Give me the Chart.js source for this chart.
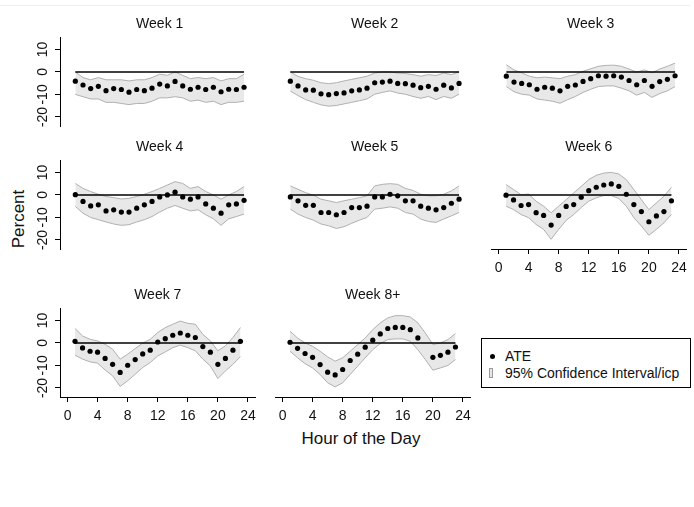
<!DOCTYPE html>
<html>
<head>
<meta charset="utf-8">
<script src="https://cdn.jsdelivr.net/npm/chart.js@4.4.1/dist/chart.umd.min.js"></script>
<style>
  html, body { margin: 0; padding: 0; background: #fff; overflow: hidden; }
  #wrap { position: relative; width: 694px; height: 507px; font-family: "Liberation Sans", Arial, sans-serif; color: #111; }
  #wrap canvas { position: absolute; }
  .lab { position: absolute; white-space: nowrap; line-height: 1; }
  #topline { position: absolute; left: 0; top: 5px; width: 690px; height: 1px; background: #eeeeee; }
  #legend { position: absolute; left: 481px; top: 338px; width: 210px; height: 50px; box-sizing: border-box; border: 1px solid #000; font-size: 14px; }
</style>
</head>
<body>
<div id="wrap">
  <div id="topline"></div>
  <div class="lab" id="ylab" style="left:18px; top:219px; font-size:17px; transform: translate(-50%, -50%) rotate(-90deg);">Percent</div>
  <div class="lab" id="xlab" style="left:361px; top:438px; font-size:17px; transform: translate(-50%, -50%);">Hour of the Day</div>
  <div id="legend">
    <div style="position:absolute; left:8px; top:15px; width:5px; height:5px; border-radius:50%; background:#000;"></div>
    <div class="lab" style="left:23px; top:10px;">ATE</div>
    <div style="position:absolute; left:7px; top:29px; width:4px; height:10px; box-sizing:border-box; background:#e6e6e6; border:1px solid #999;"></div>
    <div class="lab" style="left:23px; top:27px;">95% Confidence Interval/icp</div>
  </div>
</div>
<script>
const hours = [1, 2, 3, 4, 5, 6, 7, 8, 9, 10, 11, 12, 13, 14, 15, 16, 17, 18, 19, 20, 21, 22, 23];
const xTicks = [0, 4, 8, 12, 16, 20, 24];
const yTicks = [-20, -10, 0, 10];
const weekNames = ["Week 1", "Week 2", "Week 3", "Week 4", "Week 5", "Week 6", "Week 7", "Week 8+"];

// ATE point estimates, one per hour
const ateWeek1 = [-4.1, -5.8, -7.4, -6.4, -8.3, -7.4, -7.8, -9.0, -7.8, -8.3, -7.2, -5.4, -6.2, -4.2, -6.2, -7.7, -6.8, -7.8, -6.8, -8.8, -7.7, -7.8, -6.8];
const ateWeek2 = [-4.1, -6.2, -8.0, -8.1, -9.7, -10.1, -9.6, -9.3, -8.4, -8.0, -7.2, -4.8, -4.5, -4.1, -5.1, -5.2, -5.9, -7.0, -6.4, -7.7, -5.9, -7.1, -5.1];
const ateWeek3 = [-1.9, -4.5, -5.1, -5.7, -7.7, -6.8, -7.2, -8.4, -6.4, -5.8, -4.2, -3.0, -1.7, -1.9, -1.7, -2.3, -3.8, -5.7, -3.8, -6.4, -4.3, -3.3, -1.7];
const ateWeek4 = [0.1, -2.9, -4.9, -4.4, -7.1, -6.6, -7.6, -7.6, -5.9, -4.4, -2.9, -0.9, 0.0, 1.2, -0.9, -1.9, -0.9, -4.0, -5.9, -8.1, -4.4, -4.0, -2.4];
const ateWeek5 = [-0.9, -2.6, -4.6, -4.6, -7.8, -7.8, -8.8, -7.8, -5.6, -5.6, -5.0, -0.9, -0.9, 0.3, -0.4, -2.6, -2.6, -5.0, -5.9, -6.6, -5.6, -3.7, -1.9];
const ateWeek6 = [-0.1, -2.2, -4.7, -4.3, -7.9, -9.1, -13.4, -9.1, -5.1, -4.3, -1.0, 1.9, 3.4, 4.4, 4.9, 3.8, 0.3, -4.3, -7.4, -11.9, -9.3, -7.4, -2.6];
const ateWeek7 = [0.7, -2.2, -3.7, -4.1, -6.9, -9.5, -13.1, -9.9, -7.4, -4.9, -3.2, 0.4, 1.9, 3.4, 4.4, 3.4, 2.4, -1.6, -4.1, -9.5, -6.9, -3.2, 0.7];
const ateWeek8 = [0.3, -2.4, -4.7, -6.4, -9.6, -13.0, -14.2, -11.8, -7.8, -5.0, -1.9, 1.2, 4.0, 6.4, 6.9, 6.9, 5.9, 2.2, null, -6.4, -5.5, -4.1, -1.8];

// 95% confidence interval, upper and lower bounds
const upperWeek1 = [0, -2.5, -3.5, -2.5, -3.5, -3.5, -3.5, -4, -3.5, -3.5, -2.5, -1, -1.5, 0, -1.5, -3, -2.5, -3, -2.5, -4, -3, -3, -1];
const lowerWeek1 = [-10, -11, -12, -12, -13.5, -13.5, -14, -14.5, -14, -14, -13, -11.5, -11.5, -11, -11.5, -13, -12.5, -13.5, -13, -14.5, -13.5, -13.5, -13];
const upperWeek2 = [0, -2, -3, -3.7, -4.8, -5.2, -4.8, -4, -3.3, -2.6, -1.9, -0.5, 0, 0, -0.5, -0.7, -1.2, -1.9, -1.2, -1.6, -0.5, -1.2, 0];
const lowerWeek2 = [-8.5, -10.5, -12.3, -13.5, -14.6, -15.2, -14.9, -14.2, -13.5, -12.8, -12, -9.9, -9.1, -8.4, -9.4, -9.9, -10.9, -11.7, -10.9, -12.3, -10.9, -11.7, -9.9];
const upperWeek3 = [3.2, 0.9, -0.4, -1.9, -2.6, -2.3, -2.6, -3, -1.9, -1.2, 0.3, 1.4, 2.5, 2.9, 3, 2.5, 1.3, -0.1, 0.9, -0.4, 1.3, 2.5, 3.9];
const lowerWeek3 = [-6.5, -8.8, -9.9, -10.3, -12, -12.5, -13, -13.9, -12.3, -10.9, -9.1, -7.7, -6.5, -6.2, -6.2, -7.2, -8.4, -10.3, -9.1, -11.3, -9.6, -8.4, -6.5];
const upperWeek4 = [5.1, 2.9, 1.5, 0.3, -0.7, -1.2, -1.8, -1.5, -0.7, 0.3, 1.5, 2.9, 4.4, 5.9, 5.1, 2.9, 3.7, 1.5, 0, -1.9, 0, 1.5, 3.7];
const lowerWeek4 = [-5.1, -8.1, -10, -11, -12, -12.9, -13.5, -13.2, -12, -11, -9.6, -7.6, -5.9, -4.7, -5.9, -7.1, -6.6, -8.8, -10.6, -13.5, -10.6, -9.6, -8.5];
const upperWeek5 = [4, 2.5, 1, -0.1, -1.9, -2.6, -3.4, -2.6, -1.9, -1.2, -0.4, 4, 4.7, 5, 4.7, 2.9, 2, 0.3, -0.4, -0.4, 0.3, 1.8, 4];
const lowerWeek5 = [-6.3, -8.5, -10, -11.2, -12.9, -13.7, -14.9, -14.1, -12.6, -11.2, -10, -6.3, -5.9, -5.3, -5.9, -7.8, -8.5, -10.7, -11.8, -12.2, -10.7, -9.3, -7.8];
const upperWeek6 = [4.6, 2.4, 0.1, 0.4, -2.8, -5, -7.9, -5, -2.1, 0.9, 3.8, 6.8, 8.7, 9.7, 10, 9.3, 6.8, 2.4, -2.1, -6.5, -3.5, -0.6, 3.4];
const lowerWeek6 = [-5, -6.5, -8.7, -10.1, -13.1, -15.3, -19.7, -15.3, -11.3, -8.7, -5.6, -2.8, -1.3, -0.3, -0.3, -1.6, -5, -10.1, -13.8, -17.9, -15.3, -12.4, -8.7];
const upperWeek7 = [6.4, 3.1, 1.6, 0.9, -0.6, -2.8, -7.2, -5, -2.5, -0.1, 1.6, 4.6, 6.8, 8.3, 9.7, 8.7, 8.3, 3.8, 0.9, -3.5, -1.3, 2.4, 6.8];
const lowerWeek7 = [-5.5, -7.2, -8.4, -9, -12, -14.6, -19.3, -16.8, -13.9, -10.9, -8.7, -5.8, -4, -2.1, -1, -2.1, -3.5, -7.2, -10.2, -15.8, -12.4, -9.5, -6.1];
const upperWeek8 = [5.2, 2.2, 0, -1.5, -3.7, -6.2, -8.1, -6.6, -3.7, -0.7, 2.2, 5.9, 8.9, 11.1, 12.1, 12.1, 11.5, 8.9, 4.4, -0.7, 0, 1.5, 4.1];
const lowerWeek8 = [-3.7, -6.6, -9.2, -11.1, -14, -17.7, -19.5, -17.7, -14, -10.3, -6.6, -3, -0.3, 1.5, 1.8, 1.8, 0.7, -3, -7.4, -12.1, -11.1, -10, -7.4];

const FONT = "'Liberation Sans', Arial, sans-serif";
const colLeft = [60, 275, 491];
const rowTop = [37, 160, 308];
const plotW = 202, plotH = 89;
const axisW = 60, titleH = 30, axisH = 40;

const panels = [
  { name: weekNames[0], ate: ateWeek1, upper: upperWeek1, lower: lowerWeek1, col: 0, row: 0, showY: true, showX: false },
  { name: weekNames[1], ate: ateWeek2, upper: upperWeek2, lower: lowerWeek2, col: 1, row: 0, showY: false, showX: false },
  { name: weekNames[2], ate: ateWeek3, upper: upperWeek3, lower: lowerWeek3, col: 2, row: 0, showY: false, showX: false },
  { name: weekNames[3], ate: ateWeek4, upper: upperWeek4, lower: lowerWeek4, col: 0, row: 1, showY: true, showX: false },
  { name: weekNames[4], ate: ateWeek5, upper: upperWeek5, lower: lowerWeek5, col: 1, row: 1, showY: false, showX: false },
  { name: weekNames[5], ate: ateWeek6, upper: upperWeek6, lower: lowerWeek6, col: 2, row: 1, showY: false, showX: true },
  { name: weekNames[6], ate: ateWeek7, upper: upperWeek7, lower: lowerWeek7, col: 0, row: 2, showY: true, showX: true },
  { name: weekNames[7], ate: ateWeek8, upper: upperWeek8, lower: lowerWeek8, col: 1, row: 2, showY: false, showX: true }
];

function toPoints(values) {
  return hours.map((h, i) => ({ x: h, y: values[i] }));
}

function createPanel(p) {
  const canvas = document.createElement("canvas");
  canvas.width = axisW + plotW;
  canvas.height = titleH + plotH + axisH;
  canvas.style.left = (colLeft[p.col] - axisW) + "px";
  canvas.style.top = (rowTop[p.row] - titleH) + "px";
  document.getElementById("wrap").appendChild(canvas);

  const zeroLine = [{ x: hours[0], y: 0 }, { x: hours[hours.length - 1], y: 0 }];

  new Chart(canvas.getContext("2d"), {
    type: "line",
    data: {
      datasets: [
        {
          label: "ATE",
          data: toPoints(p.ate).filter(d => d.y !== null),
          showLine: false,
          pointRadius: 2.6,
          pointHoverRadius: 2.6,
          pointBackgroundColor: "#000",
          pointBorderWidth: 0
        },
        {
          label: "zero",
          data: zeroLine,
          borderColor: "#000",
          borderWidth: 1.5,
          pointRadius: 0,
          fill: false
        },
        {
          label: "upper",
          data: toPoints(p.upper),
          borderColor: "#b0b0b0",
          borderWidth: 1,
          backgroundColor: "#e8e8e8",
          pointRadius: 0,
          fill: "+1"
        },
        {
          label: "lower",
          data: toPoints(p.lower),
          borderColor: "#b0b0b0",
          borderWidth: 1,
          pointRadius: 0,
          fill: false
        }
      ]
    },
    options: {
      responsive: false,
      animation: false,
      devicePixelRatio: 1,
      events: [],
      layout: { padding: 0 },
      plugins: {
        legend: { display: false },
        tooltip: { enabled: false },
        filler: { drawTime: "beforeDatasetsDraw" },
        title: {
          display: true,
          text: p.name,
          fullSize: false,
          color: "#111",
          font: { family: FONT, size: 14, weight: "normal", lineHeight: 1 },
          padding: { top: 10, bottom: 6 }
        }
      },
      scales: {
        x: {
          type: "linear",
          min: -1,
          max: 25,
          afterBuildTicks: s => { s.ticks = xTicks.map(v => ({ value: v })); },
          afterFit: s => { s.height = axisH; },
          border: { display: p.showX, color: "#000", width: 1 },
          grid: { display: p.showX, drawOnChartArea: false, drawTicks: true, tickLength: 5, color: "#000" },
          ticks: {
            display: p.showX,
            autoSkip: false,
            minRotation: 0,
            maxRotation: 0,
            padding: 6,
            color: "#111",
            font: { family: FONT, size: 14 },
            callback: v => String(v)
          }
        },
        y: {
          type: "linear",
          min: -24,
          max: 15.5,
          afterBuildTicks: s => { s.ticks = yTicks.map(v => ({ value: v })); },
          afterFit: s => { s.width = axisW; },
          border: { display: p.showY, color: "#000", width: 1 },
          grid: { display: p.showY, drawOnChartArea: false, drawTicks: true, tickLength: 5, color: "#000" },
          ticks: {
            display: p.showY,
            autoSkip: false,
            minRotation: 90,
            maxRotation: 90,
            crossAlign: "center",
            padding: 2,
            color: "#111",
            font: { family: FONT, size: 14 },
            callback: v => String(v)
          }
        }
      }
    }
  });
}

panels.forEach(createPanel);
</script>
</body>
</html>
